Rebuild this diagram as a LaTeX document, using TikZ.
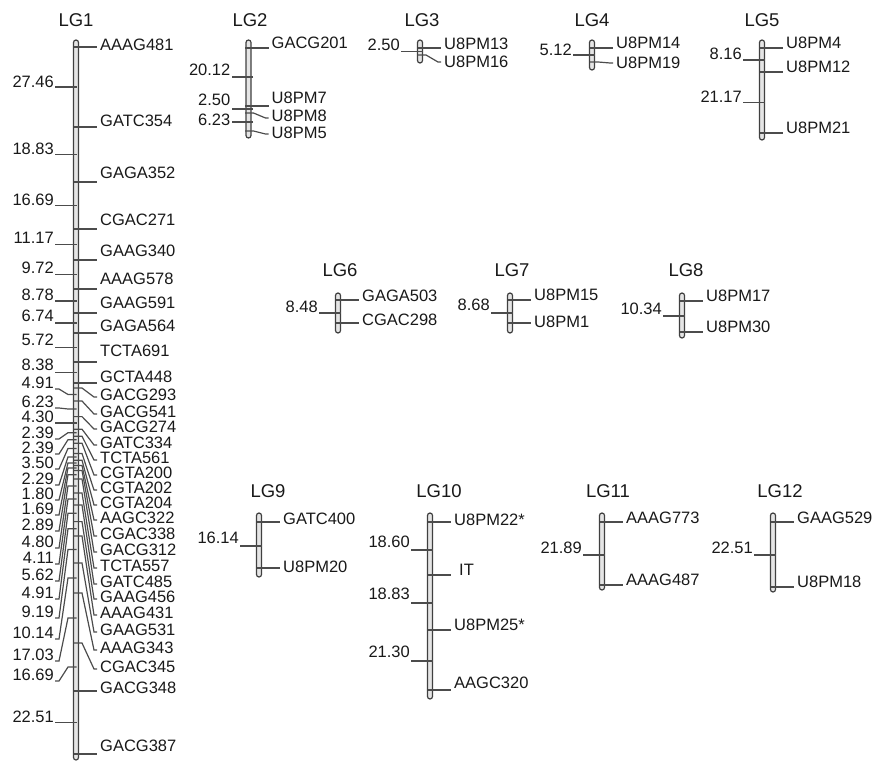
\documentclass[tikz,border=0pt]{standalone}
\usepackage{fontspec}
\setmainfont{Liberation Sans}
\usetikzlibrary{positioning}

% bar of one linkage group: centre x, top y, bottom y
\newcommand{\chrbar}[3]{\draw[chrom] ({#1-2.5},#2) rectangle ({#1+2.5},#3);}
% marker on the right: centre, bar y, line end y, label y, node name, text
\newcommand{\rmark}[6]{%
  \draw[mline] ({#1-2.5},#2) -- ({#1+6},#2) -- ({#1+18},#3) -- ({#1+21},#3);
  \node[mlabel] (#5) at ({#1+24},#4) {#6};}
% distance on the left: centre, bar y, line end y, label y, node name, text
\newcommand{\lmark}[6]{%
  \draw[mline] ({#1+2.5},#2) -- ({#1-6},#2) -- ({#1-15},#3) -- ({#1-19},#3);
  \node[dlabel] (#5) at ({#1-20},#4) {#6};}

\begin{document}
\begin{tikzpicture}[
    x=1pt, y=-1pt,
    chrom/.style={draw=black!75, fill=black!10, line width=1.2pt, rounded corners=2.5pt},
    mline/.style={draw=black!70, line width=1.2pt},
    mlabel/.style={anchor=west, inner sep=0pt, text=black!90, font=\fontsize{16.5}{18}\selectfont},
    dlabel/.style={mlabel, anchor=east},
    lgtitle/.style={inner sep=0pt, text=black!90, font=\fontsize{18.5}{20}\selectfont}
]
\useasboundingbox (0,0) rectangle (884,762);

% LG1
\node[lgtitle] (lg1) at (76,20) {LG1};
\chrbar{76}{40}{760}
\foreach \by/\ey/\ty/\mk [count=\i] in {47/47/45/AAAG481, 127/127/121/GATC354,
    182/182/173/GAGA352, 229/229/220/CGAC271, 260/260/251/GAAG340,
    289/289/279/AAAG578, 313/313/303/GAAG591, 333/333/326/GAGA564,
    362/362/351/TCTA691, 383/383/377/GCTA448, 388/397/395/GACG293,
    401/414/412/GACG541, 416.6/429/427/GACG274, 429.2/445/443/GATC334,
    436.2/460/458/TCTA561, 443.2/475/473/CGTA200, 453.5/490/488/CGTA202,
    460.2/505/503/CGTA204, 465.5/520/518/AAGC322, 470.5/536/534/CGAC338,
    479/552/550/GACG312, 493/568/566/TCTA557, 505/584/582/GATC485,
    521.6/599/597/GAAG456, 536/615/613/AAAG431, 563/632/630/GAAG531,
    593/650/648/AAAG343, 643/669/667/CGAC345, 691/691/688/GACG348,
    754/754/746/GACG387}
  {\rmark{76}{\by}{\ey}{\ty}{lg1m\i}{\mk}}
\foreach \by/\ey/\ty/\mk [count=\i] in {87/87/82/27.46, 154.5/154.5/149/18.83,
    205.5/205.5/200/16.69, 244.5/244.5/238/11.17, 274.5/274.5/268/9.72,
    301/301/295/8.78, 323/323/316/6.74, 347.5/347.5/340/5.72,
    372.5/372.5/365/8.38, 394.5/389/383/4.91, 409/408/402/6.23,
    423/423/417/4.30, 432.7/439/433/2.39, 439.7/454/448/2.39,
    448.4/469/463/3.50, 456.9/485/479/2.29, 462.9/500/494/1.80,
    468/515/509/1.69, 474.8/531/525/2.89, 486/548/542/4.80,
    499/564/558/4.11, 513.3/581/575/5.62, 528.8/599/593/4.91,
    549.5/618/612/9.19, 578/639/633/10.14, 618/661/655/17.03,
    667/681/675/16.69, 722.5/722.5/717/22.51}
  {\lmark{74}{\by}{\ey}{\ty}{lg1d\i}{\mk}}

% LG2
\node[lgtitle] (lg2) at (250,20) {LG2};
\chrbar{248.5}{40}{138}
\foreach \by/\ey/\ty/\mk [count=\i] in {48/48/43/GACG201, 106/106/98/U8PM7,
    113/118/116/U8PM8, 131/134/133/U8PM5}
  {\rmark{247.5}{\by}{\ey}{\ty}{lg2m\i}{\mk}}
\foreach \by/\ey/\ty/\mk [count=\i] in {77/77/70/20.12, 109/109/100/2.50,
    122/122/120/6.23}
  {\lmark{250.5}{\by}{\ey}{\ty}{lg2d\i}{\mk}}

% LG3
\node[lgtitle] (lg3) at (422,20) {LG3};
\chrbar{420}{40}{63}
\foreach \by/\ey/\ty/\mk [count=\i] in {48/48/44/U8PM13, 55/62/62/U8PM16}
  {\rmark{420}{\by}{\ey}{\ty}{lg3m\i}{\mk}}
\lmark{420}{51.5}{51.5}{45}{lg3d1}{2.50}

% LG4
\node[lgtitle] (lg4) at (592,20) {LG4};
\chrbar{592}{40}{70}
\foreach \by/\ey/\ty/\mk [count=\i] in {48/48/43/U8PM14, 62/63/63/U8PM19}
  {\rmark{592}{\by}{\ey}{\ty}{lg4m\i}{\mk}}
\lmark{592}{55}{55}{50}{lg4d1}{5.12}

% LG5
\node[lgtitle] (lg5) at (762,20) {LG5};
\chrbar{762}{40}{140}
\foreach \by/\ey/\ty/\mk [count=\i] in {48/48/43/U8PM4, 72/72/67/U8PM12,
    133/133/128/U8PM21}
  {\rmark{762}{\by}{\ey}{\ty}{lg5m\i}{\mk}}
\foreach \by/\ey/\ty/\mk [count=\i] in {60/60/54/8.16, 102.5/102.5/97/21.17}
  {\lmark{762}{\by}{\ey}{\ty}{lg5d\i}{\mk}}

% LG6
\node[lgtitle] (lg6) at (340,270) {LG6};
\chrbar{338}{293}{333}
\foreach \by/\ey/\ty/\mk [count=\i] in {300/300/296/GAGA503, 323/323/320/CGAC298}
  {\rmark{338}{\by}{\ey}{\ty}{lg6m\i}{\mk}}
\lmark{338}{313}{313}{307}{lg6d1}{8.48}

% LG7
\node[lgtitle] (lg7) at (512,270) {LG7};
\chrbar{510}{293}{333}
\foreach \by/\ey/\ty/\mk [count=\i] in {300/300/295/U8PM15, 323/323/322/U8PM1}
  {\rmark{510}{\by}{\ey}{\ty}{lg7m\i}{\mk}}
\lmark{510}{313}{313}{305}{lg7d1}{8.68}

% LG8
\node[lgtitle] (lg8) at (686,270) {LG8};
\chrbar{682}{293}{338}
\foreach \by/\ey/\ty/\mk [count=\i] in {301/301/296/U8PM17, 332/332/327/U8PM30}
  {\rmark{682}{\by}{\ey}{\ty}{lg8m\i}{\mk}}
\lmark{682}{316}{316}{309}{lg8d1}{10.34}

% LG9
\node[lgtitle] (lg9) at (268,491) {LG9};
\chrbar{259}{513}{577}
\foreach \by/\ey/\ty/\mk [count=\i] in {522/522/519/GATC400, 568/568/567/U8PM20}
  {\rmark{259}{\by}{\ey}{\ty}{lg9m\i}{\mk}}
\lmark{259}{546}{546}{538}{lg9d1}{16.14}

% LG10
\node[lgtitle] (lg10) at (439,491) {LG10};
\chrbar{430}{513}{699}
\foreach \by/\ey/\ty/\mk [count=\i] in {522/522/520/U8PM22*, 575/575/570/\hspace{5pt}IT,
    630/630/625/U8PM25*, 690/690/683/AAGC320}
  {\rmark{430}{\by}{\ey}{\ty}{lg10m\i}{\mk}}
\foreach \by/\ey/\ty/\mk [count=\i] in {550/550/542/18.60, 603/603/594/18.83,
    661/661/652/21.30}
  {\lmark{430}{\by}{\ey}{\ty}{lg10d\i}{\mk}}

% LG11
\node[lgtitle] (lg11) at (608,491) {LG11};
\chrbar{602}{513}{590}
\foreach \by/\ey/\ty/\mk [count=\i] in {522/522/518/AAAG773, 585/585/580/AAAG487}
  {\rmark{602}{\by}{\ey}{\ty}{lg11m\i}{\mk}}
\lmark{602}{555}{555}{548}{lg11d1}{21.89}

% LG12
\node[lgtitle] (lg12) at (780,491) {LG12};
\chrbar{773}{513}{592}
\foreach \by/\ey/\ty/\mk [count=\i] in {522/522/518/GAAG529, 587/587/582/U8PM18}
  {\rmark{773}{\by}{\ey}{\ty}{lg12m\i}{\mk}}
\lmark{773}{555}{555}{548}{lg12d1}{22.51}
\end{tikzpicture}
\end{document}
